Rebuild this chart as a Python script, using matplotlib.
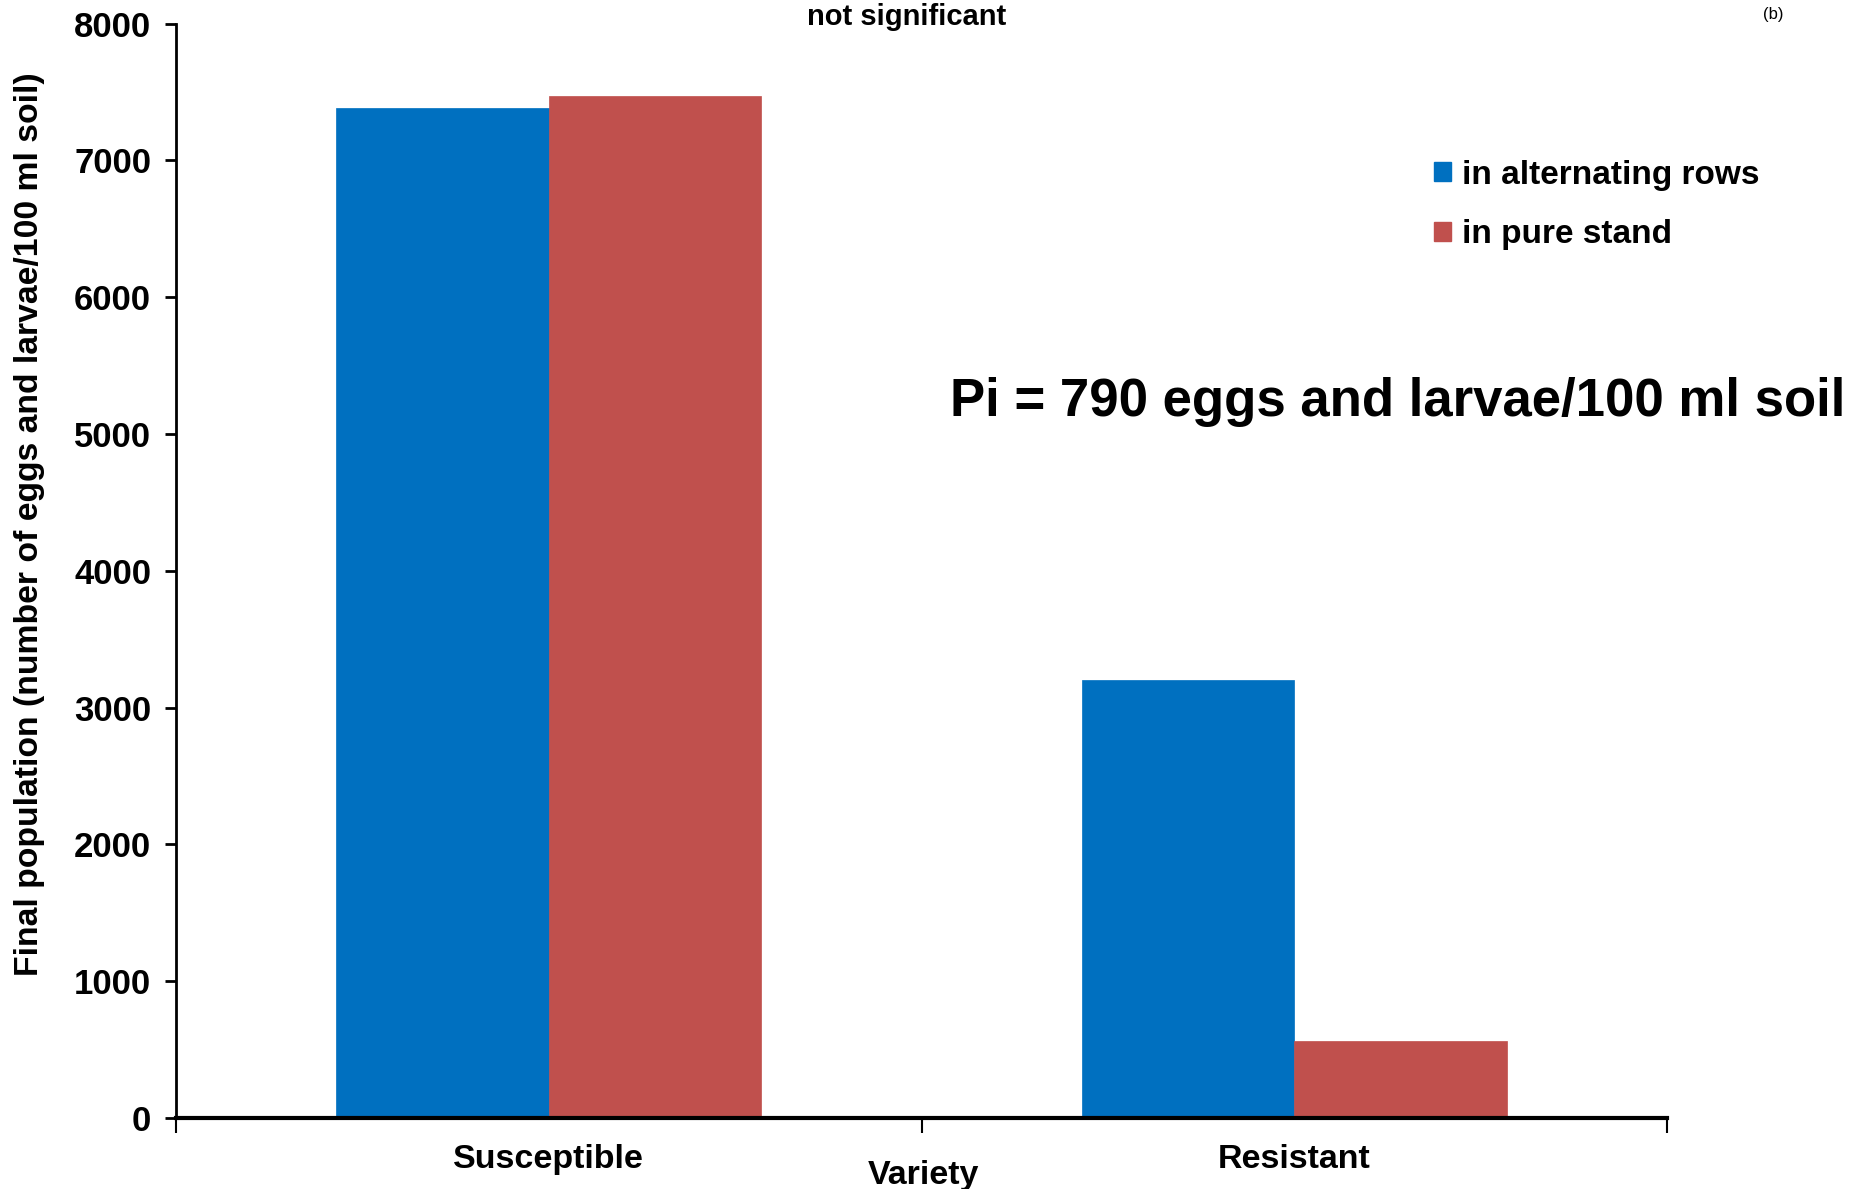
import numpy as np
import matplotlib
matplotlib.use("Agg")
from matplotlib import pyplot as plt
from matplotlib.patches import Patch

plt.rcParams["font.family"] = ["Liberation Sans", "DejaVu Sans"]

# final population per variety, two planting arrangements
varieties = ["Susceptible", "Resistant"]
alternating_rows = [7380, 3200]
pure_stand = [7470, 560]
series_names = ["in alternating rows", "in pure stand"]
yticks = [0, 1000, 2000, 3000, 4000, 5000, 6000, 7000, 8000]

blue = "#0070C0"
red = "#C0504D"

fig = plt.figure(figsize=(18.67, 11.89), dpi=100)
ax = fig.add_axes([0.0943, 0.0597, 0.7986, 0.9205])

x = np.arange(len(varieties))
w = 0.285
ax.bar(x - w / 2, alternating_rows, w, color=blue, edgecolor=blue, linewidth=0.5)
ax.bar(x + w / 2, pure_stand, w, color=red, edgecolor=red, linewidth=0.5)

ax.set_xlim(-0.5, 1.5)
ax.set_ylim(0, 8000)
ax.set_yticks(yticks)
ax.set_yticklabels([str(v) for v in yticks], fontsize=25, fontweight="bold")

# category boundaries carry the tick marks, names sit between them
ax.set_xticks([-0.5, 0.5, 1.5])
ax.set_xticklabels(["", "", ""])
ax.tick_params(axis="x", which="major", length=11, width=1.5, direction="out")
ax.set_xticks(x, minor=True)
ax.set_xticklabels(varieties, minor=True, fontsize=24.5, fontweight="bold")
ax.tick_params(axis="x", which="minor", length=0, pad=19)
ax.tick_params(axis="y", length=8, width=2, direction="out", pad=10)

for side in ["top", "right"]:
    ax.spines[side].set_visible(False)
ax.spines["left"].set_linewidth(2)
ax.spines["bottom"].set_linewidth(3)

fig.text(0.016, 0.559, "Final population (number of eggs and larvae/100 ml soil)",
         fontsize=24.3, fontweight="bold", rotation=90, ha="center", va="center")
fig.text(0.4945, 0.0115, "Variety", fontsize=24.5, fontweight="bold",
         ha="center", va="center")

fig.text(0.4855, 0.986, "not significant", fontsize=21, fontweight="bold",
         ha="center", va="center")
fig.text(0.950, 0.988, "(b)", fontsize=12, ha="center", va="center")
fig.text(0.7485, 0.6615, "Pi = 790 eggs and larvae/100 ml soil",
         fontsize=38, fontweight="bold", ha="center", va="center")

handles = [Patch(facecolor=blue, edgecolor=blue), Patch(facecolor=red, edgecolor=red)]
ax.legend(handles, series_names, loc="upper left", bbox_to_anchor=(0.8235, 0.903),
          frameon=False, handlelength=0.5, handleheight=0.5, handletextpad=0.35,
          labelspacing=0.85, prop={"size": 24, "weight": "bold"})

fig.savefig("out.png", dpi=100)
